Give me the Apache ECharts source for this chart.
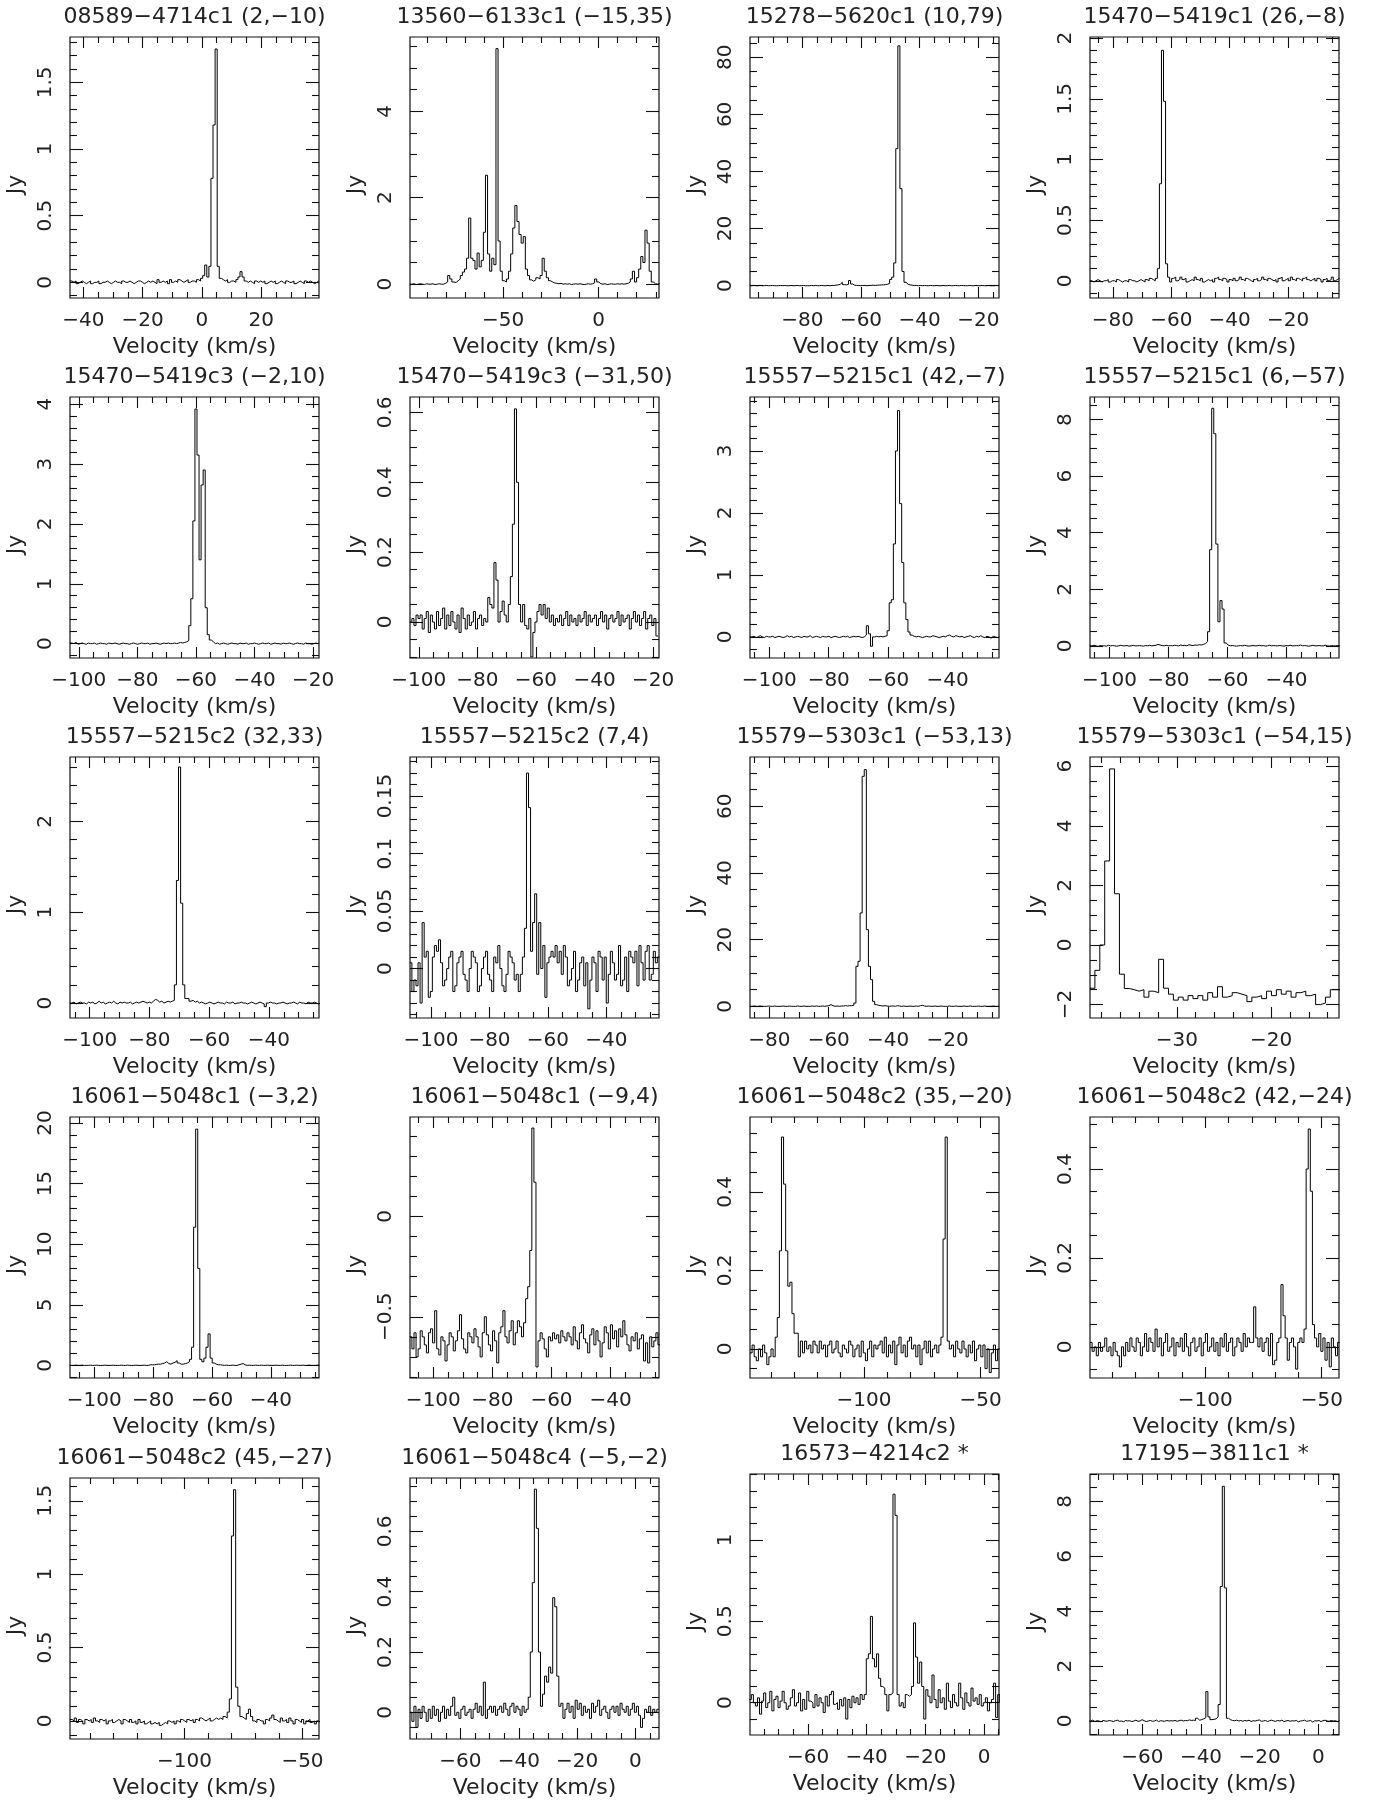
<!DOCTYPE html>
<html>
<head>
<meta charset="utf-8">
<title>Spectra</title>
<script src="https://cdn.jsdelivr.net/npm/echarts@6.0.0/dist/echarts.min.js"></script>
<style>
    html, body { margin: 0; padding: 0; background: #fff; }
    #spectra { width: 1376px; height: 1802px; }
</style>
</head>
<body>
<div id="spectra"></div>
<script>
    // panel titles, left to right, top to bottom
    var titles = [
        '08589\u22124714c1 (2,\u221210)', '13560\u22126133c1 (\u221215,35)', '15278\u22125620c1 (10,79)', '15470\u22125419c1 (26,\u22128)',
        '15470\u22125419c3 (\u22122,10)', '15470\u22125419c3 (\u221231,50)', '15557\u22125215c1 (42,\u22127)', '15557\u22125215c1 (6,\u221257)',
        '15557\u22125215c2 (32,33)', '15557\u22125215c2 (7,4)', '15579\u22125303c1 (\u221253,13)', '15579\u22125303c1 (\u221254,15)',
        '16061\u22125048c1 (\u22123,2)', '16061\u22125048c1 (\u22129,4)', '16061\u22125048c2 (35,\u221220)', '16061\u22125048c2 (42,\u221224)',
        '16061\u22125048c2 (45,\u221227)', '16061\u22125048c4 (\u22125,\u22122)', '16573\u22124214c2 *', '17195\u22123811c1 *'
    ];

    // velocity of the first channel edge and channel width (km/s)
    var chanStart = [-44.55, -98.85, -97.85, -87.85, -103.05, -103.05, -106.55, -106.65, -106.65, -107.25,
        -86.55, -39.2, -108.25, -107.95, -148.9, -149.4, -148.5, -77.35, -80.05, -78.25];
    var chanWidth = [0.7, 1.1, 0.7, 0.7, 0.7, 0.7, 0.7, 0.7, 0.7, 0.7,
        0.7, 0.52, 0.7, 0.7, 0.9, 0.9, 0.9, 0.7, 0.7, 0.7];

    // flux density per channel (Jy)
    var flux01 = [0.01,0.00,0.01,-0.01,0.00,0.01,0.00,-0.01,0.00,0.01,
        -0.01,0.00,0.00,0.01,-0.01,0.00,0.00,0.01,0.00,-0.01,
        0.00,0.01,0.00,0.00,-0.01,0.01,0.00,0.00,0.01,0.00,
        -0.01,0.00,0.01,0.01,0.00,-0.01,0.00,0.01,0.00,0.01,
        0.00,-0.01,0.02,0.00,0.01,0.00,0.01,-0.01,0.02,0.00,
        0.01,0.00,0.02,0.01,0.00,0.01,0.02,0.00,0.01,0.01,
        0.00,0.02,0.01,0.03,0.05,0.13,0.04,0.12,0.78,1.18,
        1.75,0.12,0.03,0.02,0.01,0.02,0.00,0.01,0.01,0.00,
        0.02,0.04,0.08,0.04,0.01,0.00,0.01,0.00,-0.01,0.01,
        0.00,0.01,0.00,0.01,-0.01,0.00,0.01,0.00,0.01,-0.01,
        0.00,0.01,0.00,-0.01,0.01,0.00,0.00,0.01,-0.01,0.00,
        0.01,0.00,-0.01,0.01,0.00,0.01,0.00,-0.01,0.00,0.01];
    var flux02 = [0.00,0.01,-0.01,0.00,0.01,0.00,-0.01,0.01,0.00,0.00,
        0.01,-0.01,0.00,0.01,0.00,0.00,0.02,0.05,0.20,0.12,
        0.05,0.04,0.08,0.12,0.20,0.28,0.35,0.60,1.53,0.60,
        0.55,0.35,0.72,0.40,0.55,1.20,2.52,0.70,0.30,0.60,
        0.45,5.45,1.00,0.30,0.08,0.05,0.12,0.30,0.70,1.30,
        1.82,1.45,1.15,0.95,1.10,0.35,0.20,0.10,0.07,0.10,
        0.15,0.12,0.20,0.60,0.30,0.15,0.08,0.05,0.03,0.02,
        0.01,0.02,0.00,0.01,0.00,0.01,-0.01,0.00,0.01,0.00,
        0.01,0.00,-0.01,0.00,0.01,0.00,0.01,0.03,0.12,0.05,
        0.01,0.00,0.01,-0.01,0.00,0.01,0.00,0.00,0.01,0.00,
        0.01,0.00,0.01,0.02,0.05,0.12,0.30,0.05,0.15,0.35,
        0.64,0.50,1.25,0.95,0.30,0.05,0.01,0.00,0.01];
    var flux03 = [0.0,0.1,0.0,0.0,0.1,0.0,0.0,0.1,0.0,0.0,
        0.1,0.0,0.0,0.0,0.1,0.0,0.1,0.0,0.0,0.1,
        0.0,0.0,0.1,0.0,0.0,0.1,0.0,0.0,0.0,0.1,
        0.0,0.1,0.0,0.0,0.1,0.0,0.0,0.1,0.0,0.1,
        0.1,0.2,0.3,0.5,1.2,0.4,0.3,0.5,1.8,0.6,
        0.2,0.1,0.1,0.0,0.1,0.1,0.0,0.1,0.1,0.2,
        0.1,0.2,0.2,0.3,0.3,0.4,0.5,0.8,2.2,3.0,
        8.0,48,84,34,5.0,1.2,0.5,0.3,0.2,0.1,
        0.1,0.0,0.1,0.0,0.1,0.0,0.0,0.1,0.0,0.0,
        0.1,0.0,0.0,0.1,0.0,0.0,0.1,0.0,0.0,0.1,
        0.0,0.0,0.1,0.0,0.0,0.0,0.1,0.0,0.0,0.1,
        0.0,0.0,0.1,0.0,0.0,0.1,0.0,0.0,0.0,0.1,0.0];
    var flux04 = [0.00,-0.01,0.00,0.01,0.00,-0.01,0.00,0.00,0.01,-0.01,
        0.00,0.00,-0.01,0.01,0.00,-0.01,0.00,0.00,-0.01,0.01,
        0.00,0.00,-0.01,0.00,0.01,0.00,-0.01,0.01,0.00,0.02,
        0.01,0.00,0.02,0.10,0.80,1.90,1.48,0.14,0.03,-0.01,
        0.02,0.03,0.00,0.01,0.03,0.01,0.02,-0.01,0.00,0.01,
        0.00,0.03,0.01,0.00,0.02,-0.01,0.00,0.01,0.00,0.01,
        -0.01,0.02,0.03,0.01,0.00,0.02,0.01,-0.01,0.01,0.00,
        0.02,0.00,0.01,0.03,0.01,0.00,0.02,0.01,0.00,-0.01,
        0.01,0.02,0.00,0.01,0.03,0.01,0.00,0.02,0.01,0.00,
        0.01,-0.01,0.02,0.03,0.00,0.01,0.02,0.00,0.03,0.01,
        0.00,0.02,0.01,0.00,0.02,0.03,0.01,0.00,0.01,0.02,
        0.00,0.02,0.01,-0.01,0.01,0.02,0.00,0.01,0.03,0.00,0.01,0.02];
    var flux05 = [0.01,0.00,0.02,-0.01,0.00,0.01,0.00,-0.01,0.01,0.00,
        0.00,0.01,-0.01,0.00,0.01,0.00,0.00,-0.01,0.01,0.00,
        0.00,0.01,0.00,-0.01,0.00,0.01,0.00,0.00,-0.01,0.00,
        0.01,0.00,-0.01,0.00,0.01,0.00,0.00,0.01,-0.01,0.00,
        0.00,0.01,0.00,-0.01,0.00,0.01,0.00,0.01,0.00,0.00,
        0.01,0.00,0.01,0.02,0.01,0.02,0.03,0.05,0.30,0.75,
        2.05,3.92,3.15,1.40,2.65,2.90,0.60,0.15,0.06,0.03,
        0.00,0.01,-0.01,0.00,0.01,0.00,-0.01,0.00,0.01,0.00,
        0.00,-0.01,0.01,0.00,0.00,0.01,-0.01,0.00,0.00,0.01,
        0.00,-0.01,0.00,0.01,0.00,0.00,0.01,-0.01,0.00,0.01,
        0.00,0.00,-0.01,0.01,0.00,0.00,0.01,0.00,-0.01,0.00,
        0.01,0.00,0.00,-0.01,0.01,0.00,0.00,-0.01,0.00,0.01,0.00];
    var flux06 = [0.00,0.01,-0.01,0.02,0.01,0.02,-0.02,0.01,0.03,-0.03,
        0.02,0.00,-0.02,0.03,-0.01,0.01,0.04,-0.02,0.02,-0.01,
        0.03,0.00,-0.02,0.02,-0.03,0.04,0.01,-0.02,0.02,-0.01,
        0.00,0.03,-0.02,0.01,0.02,-0.01,0.01,0.00,0.07,0.05,
        0.04,0.17,0.12,0.00,0.03,0.06,0.02,0.00,0.05,0.13,
        0.28,0.61,0.40,0.05,0.00,0.05,-0.01,-0.02,0.01,-0.10,
        -0.03,0.00,0.03,0.05,0.02,0.05,0.01,0.04,0.00,0.02,
        -0.01,0.01,0.00,0.02,-0.01,0.01,0.03,-0.01,0.02,0.00,
        0.01,-0.01,0.02,0.00,0.01,0.03,-0.01,0.02,0.00,0.01,
        0.02,-0.01,0.01,0.03,0.00,0.02,-0.02,0.01,0.02,0.00,
        0.01,0.03,-0.01,0.02,0.00,0.01,0.02,-0.02,0.01,0.03,
        0.00,0.02,-0.01,0.01,0.03,-0.02,0.01,0.02,-0.01,0.01,-0.04];
    var flux07 = [0.00,0.01,-0.01,0.00,0.02,0.00,-0.01,0.01,0.00,0.00,
        0.01,-0.01,0.00,0.01,0.00,-0.01,0.00,0.02,0.00,0.01,
        -0.01,0.00,0.01,0.00,-0.01,0.01,0.00,0.00,0.02,-0.01,
        0.00,0.01,0.00,-0.01,0.01,0.00,0.00,0.01,-0.01,0.00,
        0.01,0.00,-0.01,0.00,0.01,0.00,0.01,-0.01,0.00,0.01,
        0.00,0.01,0.00,-0.01,0.00,0.03,0.18,0.05,-0.15,0.00,
        0.01,0.00,0.01,0.00,0.01,0.02,0.10,0.55,0.60,1.50,
        3.00,3.65,2.15,1.20,0.55,0.28,0.08,0.03,0.01,0.00,
        0.01,0.00,-0.01,0.00,0.01,0.00,0.00,0.02,0.01,0.00,
        -0.01,0.00,0.01,0.00,0.02,0.03,0.01,0.00,0.02,0.01,
        0.00,0.01,-0.01,0.00,0.01,0.02,0.00,-0.01,0.01,0.00,
        0.02,0.00,-0.01,0.01,0.00,-0.02,0.01,0.00,-0.01,0.00];
    var flux08 = [0.00,0.02,0.00,-0.02,0.01,0.00,0.00,-0.01,0.02,0.00,
        0.01,0.00,-0.01,0.00,0.02,0.00,0.00,0.01,-0.01,0.00,
        0.02,0.00,0.00,0.01,0.00,-0.01,0.01,0.00,0.02,0.00,
        0.01,0.02,0.05,0.03,0.01,0.00,0.02,0.00,0.01,0.00,
        0.02,0.01,0.00,0.03,0.01,0.02,0.00,0.04,0.02,0.01,
        0.03,0.02,0.04,0.03,0.05,0.08,0.15,0.50,3.40,8.40,
        7.50,3.60,0.85,1.60,1.30,0.10,0.03,0.00,0.01,0.00,
        -0.01,0.00,0.01,0.00,0.02,0.00,-0.01,0.00,0.01,0.00,
        0.00,0.02,0.00,0.01,-0.01,0.00,0.02,0.00,0.01,0.00,
        0.00,0.01,0.00,-0.01,0.01,0.00,0.02,0.00,0.00,0.01,
        0.00,0.03,0.00,0.01,0.00,-0.01,0.00,0.02,0.00,0.00,
        0.01,0.00,0.00,0.02,0.00,-0.01,0.01,0.00,0.00,0.01,0.00];
    var flux09 = [0.00,0.01,-0.01,0.00,0.01,0.00,0.00,-0.01,0.01,0.00,
        0.01,-0.01,0.00,0.02,0.00,0.01,-0.01,0.00,0.01,0.00,
        0.02,0.00,-0.01,0.01,0.00,0.01,0.00,0.00,0.01,-0.01,
        0.00,0.01,0.00,0.01,0.02,0.01,0.00,0.01,0.00,0.02,
        0.04,0.03,0.01,0.02,0.00,0.01,0.02,0.01,0.02,0.03,
        0.20,1.35,2.60,1.10,0.20,0.05,0.05,0.02,0.03,0.01,
        0.02,0.00,0.01,0.00,-0.01,0.00,0.01,0.00,-0.01,0.00,
        0.01,0.00,0.00,-0.01,0.01,0.00,0.00,0.01,-0.01,0.00,
        0.00,0.01,0.00,0.00,-0.01,0.00,0.01,0.00,-0.01,0.00,
        0.01,0.00,-0.01,-0.04,0.00,0.01,0.00,0.00,-0.01,0.00,
        0.00,0.01,0.00,-0.01,0.00,0.00,0.01,0.00,-0.01,0.01,
        0.00,0.00,-0.01,0.01,0.00,0.00,0.01,0.00,-0.01,0.00];
    var flux10 = [0.005,-0.020,-0.010,-0.015,0.005,-0.030,0.040,0.010,0.015,-0.025,
        -0.020,0.010,0.020,0.015,0.025,0.005,-0.015,-0.010,0.000,0.010,
        0.015,-0.020,-0.015,0.005,0.010,0.015,-0.005,-0.010,-0.020,0.000,
        0.015,0.010,0.005,-0.020,-0.015,0.000,0.010,0.015,-0.005,-0.010,
        -0.020,0.010,0.005,0.020,0.000,-0.015,-0.020,-0.005,0.015,0.010,
        0.005,-0.010,-0.005,-0.020,-0.005,0.010,0.035,0.170,0.140,0.015,
        0.040,0.065,-0.005,0.040,0.000,0.020,-0.025,0.005,0.010,0.015,
        0.010,0.020,0.005,0.015,-0.005,0.020,0.010,-0.015,-0.010,0.000,
        0.015,-0.020,-0.010,0.005,0.010,-0.015,0.005,-0.035,-0.010,0.010,
        0.005,-0.020,0.015,0.010,-0.010,0.010,-0.030,-0.005,0.015,0.005,
        -0.010,-0.005,0.020,-0.015,-0.010,0.010,-0.020,0.015,0.010,0.005,
        0.015,-0.015,0.020,0.005,-0.010,0.015,0.020,-0.010,-0.005,0.015,0.005,0.010];
    var flux11 = [0.0,0.1,0.0,0.0,0.1,0.0,0.0,0.0,0.1,0.0,
        0.0,0.1,0.0,0.0,0.0,0.1,0.0,0.0,0.1,0.0,
        0.0,0.0,0.1,0.0,0.0,0.1,0.0,0.0,0.0,0.1,
        0.0,0.1,0.0,0.0,0.1,0.0,0.1,0.2,0.5,0.2,
        0.0,0.1,0.0,0.1,0.1,0.2,0.1,0.2,0.2,0.3,
        1.0,12,13.5,28,69,71,23,12,8.0,1.5,
        0.5,0.3,0.2,0.1,0.2,0.1,0.0,0.1,0.1,0.0,
        0.2,0.1,0.0,0.1,0.0,0.0,0.1,0.0,0.0,0.1,
        0.0,0.2,0.3,0.1,0.0,0.1,0.0,0.0,0.1,0.0,
        0.0,0.1,0.0,0.0,0.0,0.1,0.0,0.0,0.1,0.0,
        0.0,0.0,0.1,0.0,0.0,0.1,0.0,0.0,0.0,0.1,
        0.0,0.0,0.1,0.0,0.0,0.0,0.1,0.0,0.0,0.0];
    var flux12 = [-1.45,-0.85,0.00,2.82,5.91,1.72,-0.98,-1.46,-1.50,-1.55,
        -1.50,-1.75,-1.55,-1.60,-0.48,-1.45,-1.65,-1.85,-1.75,-1.85,
        -1.70,-1.80,-1.70,-1.85,-1.60,-1.75,-1.40,-1.75,-1.70,-1.60,
        -1.65,-1.70,-1.90,-1.75,-1.70,-1.80,-1.55,-1.70,-1.50,-1.65,
        -1.55,-1.75,-1.60,-1.55,-1.70,-1.65,-2.00,-1.95,-1.75,-1.50,-1.50];
    var flux13 = [0,0,0.02,0,0,0.02,0,0,0,0.02,
        0,0,0.02,0,0,0,0.02,0,0,0,
        0.02,0,0,0,0.02,0,0,0.02,0,0,
        0,0.02,0,0,0,0.02,0,0,0.05,0.05,
        0.05,0.08,0.1,0.1,0.15,0.2,0.3,0.15,0.1,0.2,
        0.25,0.4,0.2,0.1,0.1,0.15,0.2,0.3,0.5,1.5,
        11.4,19.5,8.0,0.5,0.3,0.6,1.5,2.6,0.6,0.2,
        0.1,0.05,0.05,0.02,0,0.02,0,0,0.02,0,
        0,0.05,0.1,0.15,0.05,0,0.02,0,0,0.02,
        0,0,0.02,0,0,0.02,0,0,0,0.02,
        0,0,0.02,0,0,0,0.02,0,0,0.02,
        0,0,0.02,0,0,0.02,0,0,0,0.02,0];
    var flux14 = [-0.60,-0.66,-0.58,-0.70,-0.66,-0.57,-0.60,-0.64,-0.68,-0.58,
        -0.56,-0.63,-0.47,-0.66,-0.69,-0.60,-0.62,-0.72,-0.64,-0.58,
        -0.60,-0.67,-0.62,-0.57,-0.49,-0.61,-0.66,-0.68,-0.58,-0.60,
        -0.63,-0.56,-0.60,-0.65,-0.70,-0.58,-0.50,-0.59,-0.64,-0.67,
        -0.57,-0.62,-0.73,-0.58,-0.55,-0.47,-0.60,-0.63,-0.57,-0.52,
        -0.64,-0.58,-0.52,-0.55,-0.60,-0.53,-0.41,-0.35,-0.17,0.44,
        0.17,-0.75,-0.62,-0.58,-0.61,-0.66,-0.70,-0.60,-0.62,-0.58,
        -0.61,-0.59,-0.63,-0.57,-0.60,-0.62,-0.58,-0.60,-0.64,-0.55,
        -0.62,-0.66,-0.58,-0.54,-0.61,-0.63,-0.68,-0.59,-0.56,-0.64,
        -0.57,-0.62,-0.70,-0.63,-0.55,-0.58,-0.66,-0.54,-0.61,-0.57,
        -0.65,-0.56,-0.60,-0.52,-0.59,-0.64,-0.67,-0.60,-0.62,-0.58,
        -0.66,-0.61,-0.59,-0.72,-0.63,-0.73,-0.60,-0.65,-0.62,-0.58,-0.64];
    var flux15 = [-0.01,0.01,-0.02,-0.03,0.00,-0.02,0.01,-0.01,-0.04,-0.02,
        0.00,-0.02,0.03,0.08,0.25,0.54,0.42,0.25,0.16,0.17,
        0.09,0.04,0.04,-0.02,0.02,-0.01,0.02,0.00,0.01,-0.01,
        0.02,0.01,-0.01,0.02,0.00,0.01,-0.02,0.01,0.02,-0.01,
        0.00,0.02,-0.01,-0.02,0.01,0.00,-0.01,0.02,0.01,-0.02,
        0.00,0.01,-0.02,0.02,-0.01,-0.03,0.00,0.02,-0.02,0.01,
        0.00,0.01,0.02,-0.01,0.03,-0.02,0.01,-0.01,0.02,-0.04,
        0.01,0.03,-0.01,0.01,-0.02,0.02,0.03,0.00,0.01,-0.02,
        0.01,-0.04,0.00,0.02,-0.01,0.02,-0.02,0.00,0.01,-0.01,
        0.01,0.03,0.28,0.54,0.02,0.00,0.01,-0.02,0.02,0.00,
        -0.01,0.02,0.00,-0.02,0.01,-0.01,0.02,-0.03,0.00,0.01,
        -0.02,0.01,-0.05,0.00,-0.06,-0.01,0.01,-0.03,0.00];
    var flux16 = [0.01,-0.01,0.00,-0.02,0.01,-0.01,0.00,0.02,-0.01,0.00,
        -0.02,0.01,-0.01,-0.02,-0.045,0.00,-0.02,0.01,-0.01,0.02,
        0.00,-0.01,0.02,0.01,-0.02,0.00,0.03,-0.01,0.02,0.01,
        -0.01,0.04,0.00,0.02,-0.02,0.01,0.03,-0.01,0.00,0.02,
        -0.02,0.01,0.00,0.02,-0.01,0.03,0.00,-0.02,0.01,0.02,
        -0.01,0.00,0.02,-0.02,0.01,0.03,-0.01,0.00,0.02,-0.01,
        0.01,-0.02,0.02,0.00,0.03,-0.01,0.01,0.02,-0.02,0.00,
        0.02,0.01,-0.01,0.03,0.00,0.02,0.01,0.01,0.09,0.02,
        0.00,0.02,-0.01,0.01,0.02,-0.02,0.03,-0.04,-0.03,0.01,
        0.02,0.14,0.07,0.02,-0.03,0.01,0.02,0.00,-0.05,0.01,
        0.02,0.01,0.04,0.40,0.49,0.35,0.05,0.02,0.00,0.03,
        -0.01,0.02,-0.03,0.01,-0.045,0.02,0.00,-0.02,0.01];
    var flux17 = [0.01,0.00,0.02,-0.01,0.01,0.00,-0.02,0.01,0.00,0.01,
        -0.01,0.02,0.00,-0.01,0.01,0.00,0.01,-0.02,0.00,0.01,
        -0.01,0.00,0.01,0.00,-0.02,0.01,0.00,-0.01,0.01,-0.01,
        0.00,-0.02,0.01,-0.01,0.00,-0.02,-0.01,0.00,-0.02,-0.01,
        -0.02,-0.01,-0.03,-0.02,-0.01,-0.02,0.00,-0.01,0.00,-0.02,
        0.00,-0.01,0.01,0.00,-0.01,0.01,0.00,0.01,-0.01,0.01,
        0.00,0.02,0.01,0.00,0.01,0.02,0.00,0.01,0.02,0.01,
        0.02,0.01,0.03,0.02,0.06,0.15,1.26,1.575,0.23,0.10,
        0.03,0.02,0.01,0.05,0.08,0.03,0.00,-0.01,0.01,0.00,
        0.00,-0.02,0.01,0.00,0.02,0.04,0.01,0.00,-0.01,0.02,
        0.00,0.01,-0.01,0.02,0.00,-0.02,0.01,0.00,-0.01,0.01,
        -0.02,0.00,0.01,-0.01,0.00,-0.02,0.00,-0.01];
    var flux18 = [0.00,-0.03,0.02,-0.05,0.01,-0.02,0.02,0.00,-0.03,0.01,
        -0.02,0.02,-0.01,0.01,-0.03,0.00,0.02,-0.02,0.01,-0.01,
        0.02,0.05,-0.01,0.00,-0.02,0.01,0.02,-0.01,0.00,0.01,
        -0.02,0.01,0.03,0.00,0.02,-0.01,0.10,-0.02,0.01,0.02,
        0.00,0.02,-0.01,0.01,0.02,0.00,0.03,0.01,-0.01,0.02,
        0.03,0.00,0.02,0.01,-0.01,0.02,0.00,0.01,0.05,0.20,
        0.43,0.74,0.61,0.20,0.02,0.06,0.12,0.10,0.15,0.13,
        0.38,0.35,0.12,0.02,0.03,-0.02,0.01,0.03,0.00,0.02,
        -0.02,0.04,0.01,0.03,-0.01,0.02,0.00,0.01,-0.02,0.03,
        0.00,0.02,0.04,-0.01,0.01,0.02,0.00,-0.02,0.01,0.02,
        0.00,0.02,-0.01,0.03,0.01,0.00,0.02,-0.01,0.01,0.03,
        0.00,0.02,-0.01,-0.05,-0.02,0.01,0.00,0.02,-0.01,0.01,0.00,0.01];
    var flux19 = [0.02,0.05,0.00,-0.02,0.03,-0.07,0.01,0.06,-0.03,0.00,
        0.07,-0.05,0.02,0.04,-0.03,0.01,0.07,0.00,-0.04,-0.02,
        0.03,0.08,-0.02,0.00,0.06,-0.05,0.02,-0.04,0.07,0.01,
        0.00,-0.03,0.05,-0.02,0.03,0.00,-0.06,0.04,-0.02,0.05,
        0.07,-0.01,0.00,-0.04,0.02,-0.02,0.03,-0.10,0.02,-0.03,
        0.04,0.00,0.03,-0.01,0.05,0.02,0.05,0.27,0.30,0.53,
        0.27,0.22,0.30,0.15,0.10,0.09,0.05,-0.05,0.05,0.06,
        1.28,1.15,0.05,-0.02,0.00,-0.03,0.05,0.04,0.05,0.10,
        0.49,0.28,0.12,0.25,0.10,-0.10,0.08,0.04,0.00,0.17,
        0.02,-0.03,0.08,0.00,0.03,-0.04,0.12,0.01,-0.03,0.05,
        0.00,-0.02,0.12,0.03,-0.04,0.06,0.00,-0.02,0.09,0.01,
        0.03,-0.01,0.05,-0.02,0.00,0.03,-0.05,0.00,0.02,0.12,
        -0.09,0.05,0.00];
    var flux20 = [0.00,0.03,-0.02,0.01,0.00,-0.03,0.02,0.00,-0.01,0.02,
        0.00,-0.02,0.01,0.03,-0.01,0.00,-0.03,0.02,0.00,0.01,
        -0.02,0.00,0.03,-0.01,0.00,0.05,0.01,-0.02,0.00,0.02,
        -0.01,0.00,0.03,-0.02,0.01,0.00,-0.01,0.02,0.00,0.01,
        0.00,0.02,-0.01,0.01,0.03,0.00,0.02,0.01,0.04,0.02,
        0.03,0.02,0.10,0.03,0.05,0.08,0.12,1.07,0.15,0.05,
        0.06,0.08,0.15,0.60,4.90,8.55,4.85,0.10,0.05,0.02,
        0.01,0.03,0.00,0.02,-0.01,0.02,0.00,0.03,-0.02,0.01,
        0.00,0.02,0.04,-0.01,0.00,0.02,-0.02,0.01,0.03,0.00,
        -0.01,0.02,0.00,0.03,-0.02,0.00,0.02,-0.01,0.01,0.00,
        0.02,-0.03,0.00,0.01,0.03,-0.01,0.00,0.02,-0.04,0.01,
        0.00,0.02,-0.02,0.01,0.03,0.00,-0.01,0.02,0.00,0.01,-0.02,0.01];

    var fluxes = [flux01, flux02, flux03, flux04, flux05, flux06, flux07, flux08, flux09, flux10,
        flux11, flux12, flux13, flux14, flux15, flux16, flux17, flux18, flux19, flux20];

    // axis windows and tick steps [major, minor]
    var xLimits = [[-44.5, 39.5], [-98.8, 31.7], [-97.8, -13], [-87.8, -2.6], [-103, -18], [-103, -18],
        [-106.5, -22.7], [-106.6, -22.2], [-106.6, -23.2], [-107.2, -22], [-86.5, -2.7], [-39.2, -12.8],
        [-108.2, -23.7], [-107.9, -23.6], [-148.9, -42.1], [-149.4, -42.6], [-148.5, -43], [-77.3, 8.1],
        [-79.8, 5.1], [-77.8, 7.0]];
    var yLimits = [[-0.1175, 1.84], [-0.32, 5.72], [-4.3, 87.1], [-0.142, 2.01], [-0.24, 4.12], [-0.103, 0.644],
        [-0.34, 3.87], [-0.43, 8.8], [-0.165, 2.71], [-0.043, 0.184], [-3.5, 74.8], [-2.45, 6.31],
        [-1.04, 20.5], [-0.805, 0.495], [-0.074, 0.591], [-0.07, 0.517], [-0.123, 1.655], [-0.0885, 0.777],
        [-0.198, 1.404], [-0.51, 9.0]];
    var xSteps = [[20, 5], [50, 10], [20, 5], [20, 5], [20, 5], [20, 5], [20, 5], [20, 5], [20, 5], [20, 5],
        [20, 5], [10, 2], [20, 5], [20, 5], [50, 10], [50, 10], [50, 10], [20, 5], [20, 5], [20, 5]];
    var ySteps = [[0.5, 0.1], [2, 0.5], [20, 5], [0.5, 0.1], [1, 0.2], [0.2, 0.05], [1, 0.2], [2, 0.5],
        [1, 0.2], [0.05, 0.01], [20, 5], [2, 0.5], [5, 1], [0.5, 0.1], [0.2, 0.05], [0.2, 0.05],
        [0.5, 0.1], [0.2, 0.05], [0.5, 0.1], [2, 0.5]];

    function drawSpectra() {
        var colLeft = [70, 410, 750, 1090];
        var rowTop = [37, 397, 757, 1117, 1478];
        var boxW = 249, boxH = 261;
        var ink = '#222';
        var face = 'DejaVu Sans';

        function multiples(lo, hi, step) {
            var res = [];
            for (var k = Math.ceil(lo / step - 1e-9); k * step <= hi + 1e-9; k++) {
                res.push(Math.round(k * step * 1e6) / 1e6);
            }
            return res;
        }
        function minorsOf(lo, hi, major, minor) {
            return multiples(lo, hi, minor).filter(function (v) {
                return Math.abs(v / major - Math.round(v / major)) > 1e-6;
            });
        }
        function fmt(v) {
            return String(Math.round(v * 1e6) / 1e6).replace('-', '\u2212');
        }

        function makeAxis(p, dim, pos, values, len, label, name, gap) {
            var lim = dim === 'x' ? xLimits[p] : yLimits[p];
            var ax = {
                type: 'value', gridIndex: p, position: pos, min: lim[0], max: lim[1],
                axisLine: {show: false, onZero: false},
                axisTick: {show: true, inside: true, length: len, customValues: values,
                    lineStyle: {color: '#111', width: 1.1}},
                axisLabel: {show: false},
                splitLine: {show: false}
            };
            if (label) {
                ax.axisLabel = {
                    show: true, customValues: values, formatter: fmt, hideOverlap: false,
                    fontFamily: face, fontSize: 20, color: ink,
                    margin: dim === 'x' ? 13 : 14, rotate: dim === 'y' ? 90 : 0
                };
            }
            if (name) {
                ax.name = name;
                ax.nameLocation = 'middle';
                ax.nameGap = gap;
                ax.nameMoveOverlap = false;
                ax.nameTextStyle = {fontFamily: face, fontSize: 22, color: ink};
            }
            return ax;
        }

        var grids = [], xAxes = [], yAxes = [], lines = [], texts = [];
        for (var p = 0; p < 20; p++) {
            var row = Math.floor(p / 4), col = p % 4;
            var boxTop = rowTop[row] - (row === 4 && col >= 2 ? 4 : 0);
            var boxLeft = colLeft[col];
            grids.push({left: boxLeft, top: boxTop, width: boxW, height: boxH, show: true,
                borderColor: '#111', borderWidth: 1.2, backgroundColor: 'transparent',
                outerBoundsMode: 'none'});

            var xl = xLimits[p], yl = yLimits[p];
            var xMaj = multiples(xl[0], xl[1], xSteps[p][0]);
            var xMin = minorsOf(xl[0], xl[1], xSteps[p][0], xSteps[p][1]);
            var yMaj = multiples(yl[0], yl[1], ySteps[p][0]);
            var yMin = minorsOf(yl[0], yl[1], ySteps[p][0], ySteps[p][1]);

            xAxes.push(makeAxis(p, 'x', 'bottom', xMaj, 11, true, 'Velocity (km/s)', 38));
            xAxes.push(makeAxis(p, 'x', 'bottom', xMin, 6, false));
            xAxes.push(makeAxis(p, 'x', 'top', xMaj, 11, false, titles[p], 9));
            xAxes.push(makeAxis(p, 'x', 'top', xMin, 6, false));
            yAxes.push(makeAxis(p, 'y', 'left', yMaj, 13, true));
            yAxes.push(makeAxis(p, 'y', 'left', yMin, 7, false));
            yAxes.push(makeAxis(p, 'y', 'right', yMaj, 13, false));
            yAxes.push(makeAxis(p, 'y', 'right', yMin, 7, false));

            // histogram steps: each channel spans [edge, edge + width]
            var f = fluxes[p], pts = [];
            for (var i = 0; i < f.length; i++) {
                pts.push([chanStart[p] + i * chanWidth[p], f[i]]);
            }
            pts.push([chanStart[p] + f.length * chanWidth[p], f[f.length - 1]]);
            lines.push({
                type: 'line', xAxisIndex: 4 * p, yAxisIndex: 4 * p, step: 'end',
                showSymbol: false, symbol: 'none', clip: true, silent: true,
                lineStyle: {color: '#000', width: 1}, data: pts
            });

            texts.push({
                type: 'text', x: boxLeft - 54, y: boxTop + boxH / 2 + 17, rotation: Math.PI / 2, silent: true,
                style: {text: 'Jy', fill: ink, fontFamily: face, fontSize: 22, align: 'center', verticalAlign: 'middle'}
            });
        }

        var chart = echarts.init(document.getElementById('spectra'));
        chart.setOption({
            animation: false,
            backgroundColor: '#fff',
            grid: grids,
            xAxis: xAxes,
            yAxis: yAxes,
            series: lines,
            graphic: texts
        });
    }

    drawSpectra();
</script>
</body>
</html>
